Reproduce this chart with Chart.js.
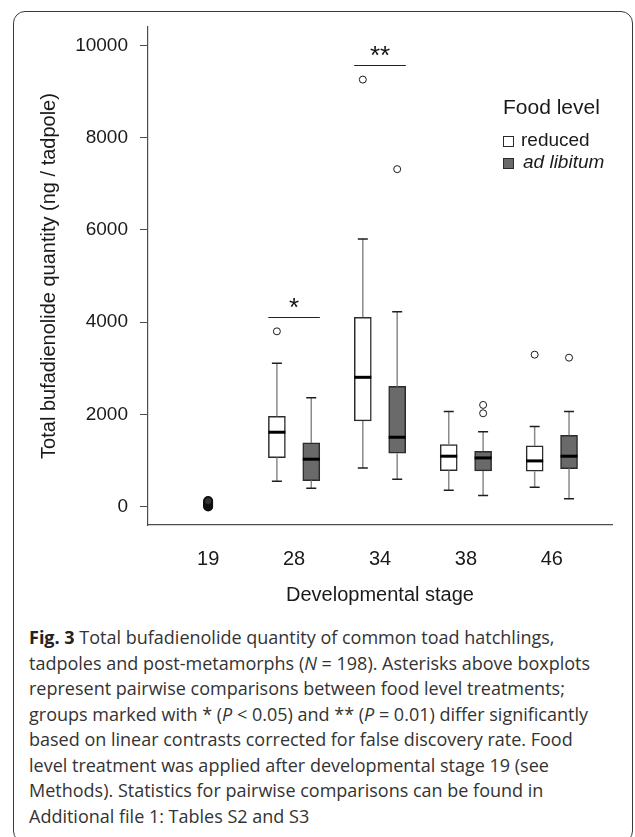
<!DOCTYPE html>
<html lang="en">
<head>
<meta charset="UTF-8" />
<title>Total bufadienolide quantity</title>
<script src="https://cdn.jsdelivr.net/npm/chart.js@4.4.1/dist/chart.umd.min.js"></script>
<style>
  html, body { margin: 0; padding: 0; background: #fff; }
  body { width: 635px; height: 837px; overflow: hidden; position: relative; }
  #frame { position: absolute; left: 13px; top: 11px; width: 620px; height: 832px;
           border: 1.5px solid #3a3a3a; border-radius: 12px; box-sizing: border-box; }
  #wrap { position: absolute; left: 0; top: 0; width: 635px; height: 620px; }
  #caption { position: absolute; left: 29px; top: 625px; font-family: "Open Sans", sans-serif;
             font-size: 18px; line-height: 25.5px; color: #333; white-space: nowrap; }
  #caption b { color: #222; }
</style>
</head>
<body>
<div id="frame"></div>
<div id="wrap"><canvas id="chart"></canvas></div>
<div id="caption"><b>Fig. 3</b> Total bufadienolide quantity of common toad hatchlings,<br>
tadpoles and post-metamorphs (<i>N</i> = 198). Asterisks above boxplots<br>
represent pairwise comparisons between food level treatments;<br>
groups marked with * (<i>P</i> &lt; 0.05) and ** (<i>P</i> = 0.01) differ significantly<br>
based on linear contrasts corrected for false discovery rate. Food<br>
level treatment was applied after developmental stage 19 (see<br>
Methods). Statistics for pairwise comparisons can be found in<br>
Additional file 1: Tables S2 and S3</div>
<script>
// developmental stages on the x axis
const stages = ['19', '28', '34', '38', '46']
const yTicks = [0, 2000, 4000, 6000, 8000, 10000]

// stage 19 (hatchlings, before food treatment) - values all near zero
const hatchlingValues = [0, 20, 40, 60, 80, 100, 120]

// boxes for the two food levels
const boxStages = ['28', '34', '38', '46']

const reducedLow = [550, 838, 355, 420]
const reducedQ1 = [1062, 1857, 780, 766]
const reducedMedian = [1612, 2803, 1092, 990]
const reducedQ3 = [1958, 4103, 1343, 1315]
const reducedHigh = [3107, 5800, 2059, 1734]
const reducedOutliers = [[3800], [9260], [], [3294]]

const adlibLow = [398, 593, 238, 167]
const adlibQ1 = [564, 1156, 773, 824]
const adlibMedian = [1027, 1503, 1055, 1092]
const adlibQ3 = [1380, 2605, 1200, 1547]
const adlibHigh = [2360, 4225, 1625, 2059]
const adlibOutliers = [[], [7317], [2023, 2204], [3229]]

// significance bars
const sigStages = ['28', '34']
const sigLevels = [4100, 9565]
const sigMarks = ['*', '**']

const legendTitle = 'Food level'
const legendLabels = ['reduced', 'ad libitum']

const FONT = '"Liberation Sans", Arial, sans-serif'
const WHITE = '#ffffff'
const GREY = '#6a6a6a'
const EDGE = '#2b2b2b'
const SHIFT = 0.2 // box offset from stage centre, in x units

function stagePos(s) {
  return stages.indexOf(s) + 1
}

const groups = [
  { low: reducedLow, q1: reducedQ1, med: reducedMedian, q3: reducedQ3, high: reducedHigh, out: reducedOutliers, dx: -SHIFT },
  { low: adlibLow, q1: adlibQ1, med: adlibMedian, q3: adlibQ3, high: adlibHigh, out: adlibOutliers, dx: SHIFT },
]

function boxData(g) {
  return boxStages.map((s, k) => ({ x: stagePos(s) + g.dx, y: [g.q1[k], g.q3[k]] }))
}

function outlierData() {
  const pts = []
  groups.forEach((g) => {
    boxStages.forEach((s, k) => {
      g.out[k].forEach((v) => pts.push({ x: stagePos(s) + g.dx, y: v }))
    })
  })
  return pts
}

const boxPlugin = {
  id: 'boxExtras',
  afterDatasetsDraw(chart) {
    const ctx = chart.ctx
    const xs = chart.scales.x
    const ys = chart.scales.y
    const half = 8.5
    ctx.save()
    groups.forEach((g) => {
      boxStages.forEach((s, k) => {
        const cx = xs.getPixelForValue(stagePos(s) + g.dx)
        const yq1 = ys.getPixelForValue(g.q1[k])
        const yq3 = ys.getPixelForValue(g.q3[k])
        const ylo = ys.getPixelForValue(g.low[k])
        const yhi = ys.getPixelForValue(g.high[k])
        // whisker stems
        ctx.strokeStyle = '#8a8a8a'
        ctx.lineWidth = 1.5
        ctx.beginPath()
        ctx.moveTo(cx, yq3)
        ctx.lineTo(cx, yhi)
        ctx.moveTo(cx, yq1)
        ctx.lineTo(cx, ylo)
        ctx.stroke()
        // whisker caps
        ctx.strokeStyle = '#1e1e1e'
        ctx.beginPath()
        ctx.moveTo(cx - 5, yhi)
        ctx.lineTo(cx + 5, yhi)
        ctx.moveTo(cx - 5, ylo)
        ctx.lineTo(cx + 5, ylo)
        ctx.stroke()
        // median
        const ym = ys.getPixelForValue(g.med[k])
        ctx.strokeStyle = '#000'
        ctx.lineWidth = 3
        ctx.beginPath()
        ctx.moveTo(cx - half, ym)
        ctx.lineTo(cx + half, ym)
        ctx.stroke()
      })
    })

    // significance bars and asterisks
    sigStages.forEach((s, j) => {
      const p = stagePos(s)
      const x1 = xs.getPixelForValue(p - SHIFT - 0.1)
      const x2 = xs.getPixelForValue(p + SHIFT + 0.1)
      const y = ys.getPixelForValue(sigLevels[j])
      ctx.strokeStyle = '#222'
      ctx.lineWidth = 1.2
      ctx.beginPath()
      ctx.moveTo(x1, y)
      ctx.lineTo(x2, y)
      ctx.stroke()
      ctx.fillStyle = '#111'
      ctx.font = '26px ' + FONT
      ctx.textAlign = 'center'
      ctx.textBaseline = 'middle'
      ctx.fillText(sigMarks[j], xs.getPixelForValue(p), y - 9)
    })

    // legend
    const lx = chart.chartArea.right - 109
    const ly = chart.chartArea.top
    ctx.textAlign = 'left'
    ctx.textBaseline = 'alphabetic'
    ctx.fillStyle = '#1a1a1a'
    ctx.font = '21px ' + FONT
    ctx.fillText(legendTitle, lx, ly + 87)
    const fills = [WHITE, GREY]
    legendLabels.forEach((lab, i) => {
      const by = ly + 109 + i * 22
      ctx.fillStyle = fills[i]
      ctx.fillRect(lx, by, 10, 10)
      ctx.strokeStyle = EDGE
      ctx.lineWidth = 1
      ctx.strokeRect(lx + 0.5, by + 0.5, 10, 10)
      ctx.fillStyle = '#1a1a1a'
      ctx.font = (i === 1 ? 'italic ' : '') + '19px ' + FONT
      ctx.fillText(lab, lx + 18 + i * 2, by + 10)
    })
    ctx.restore()
  },
}

const ctx = document.getElementById('chart').getContext('2d')
const myChart = new Chart(ctx, {
  type: 'bar',
  data: {
    datasets: [
      {
        label: legendLabels[0],
        data: boxData(groups[0]),
        backgroundColor: WHITE,
        borderColor: EDGE,
        borderWidth: 1.5,
        borderSkipped: false,
        barThickness: 17,
        grouped: false,
      },
      {
        label: legendLabels[1],
        data: boxData(groups[1]),
        backgroundColor: GREY,
        borderColor: EDGE,
        borderWidth: 1.5,
        borderSkipped: false,
        barThickness: 17,
        grouped: false,
      },
      {
        type: 'scatter',
        label: 'outliers',
        data: outlierData(),
        pointRadius: 3.5,
        pointBackgroundColor: WHITE,
        pointBorderColor: '#1a1a1a',
        pointBorderWidth: 1,
      },
      {
        type: 'scatter',
        label: 'stage 19',
        data: hatchlingValues.map((v) => ({ x: stagePos('19'), y: v })),
        pointRadius: 4,
        pointBackgroundColor: '#333',
        pointBorderColor: '#111',
        pointBorderWidth: 2,
      },
    ],
  },
  options: {
    responsive: true,
    maintainAspectRatio: false,
    animation: false,
    layout: { padding: { top: 27, right: 23, left: 0, bottom: 0 } },
    plugins: { legend: { display: false }, tooltip: { enabled: false } },
    scales: {
      x: {
        type: 'linear',
        min: 0.3,
        max: 5.7,
        offset: false,
        grid: { display: false, drawTicks: false, offset: false },
        border: { display: true, color: '#4d4d4d', width: 1.2 },
        afterBuildTicks: (scale) => {
          scale.ticks = stages.map((s, k) => ({ value: k + 1 }))
        },
        afterFit: (scale) => {
          scale.height = 95
        },
        ticks: {
          padding: 22,
          color: '#1a1a1a',
          font: { family: FONT, size: 20 },
          maxRotation: 0,
          autoSkip: false,
          callback: (v, i) => stages[i],
        },
        title: {
          display: true,
          text: 'Developmental stage',
          color: '#1a1a1a',
          font: { family: FONT, size: 20 },
          padding: { top: 0, bottom: 13 },
        },
      },
      y: {
        type: 'linear',
        min: -400,
        max: 10400,
        grid: { drawOnChartArea: false, drawTicks: true, tickLength: 8, color: '#4d4d4d', lineWidth: 1 },
        border: { display: true, color: '#4d4d4d', width: 1.2 },
        afterBuildTicks: (scale) => {
          scale.ticks = yTicks.map((v) => ({ value: v }))
        },
        afterFit: (scale) => {
          scale.width = 148
        },
        ticks: {
          padding: 12,
          color: '#1a1a1a',
          font: { family: FONT, size: 19 },
          callback: (v) => String(v),
        },
        title: {
          display: true,
          text: 'Total bufadienolide quantity (ng / tadpole)',
          color: '#1a1a1a',
          font: { family: FONT, size: 20 },
          padding: { top: 37, bottom: 0 },
        },
      },
    },
  },
  plugins: [boxPlugin],
})
</script>
</body>
</html>
